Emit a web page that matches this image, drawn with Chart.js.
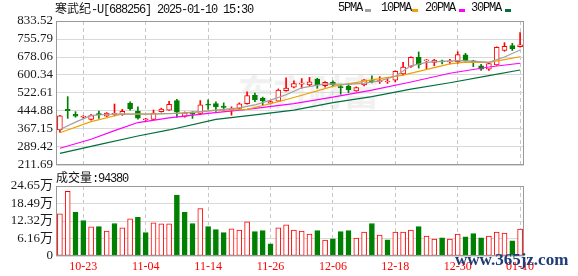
<!DOCTYPE html>
<html>
<head>
<meta charset="utf-8">
<script src="https://cdn.jsdelivr.net/npm/chart.js@4.4.1/dist/chart.umd.min.js"></script>
<style>
  html, body { margin: 0; padding: 0; background: #fff; }
  #wrap { position: relative; width: 578px; height: 276px; overflow: hidden; }
  canvas { position: absolute; left: 0; }
  .txt { position: absolute; font: 12px 'Liberation Mono', monospace; letter-spacing: -1.2px;
         color: #111; white-space: nowrap; line-height: 14px; }
  .cjk { font-family: 'Noto Sans CJK SC', sans-serif; letter-spacing: 0; }
  .mk { position: absolute; top: 9px; width: 6px; height: 3px; }
  #logo { position: absolute; left: 238px; top: 64px; font: bold 36px 'Noto Sans CJK SC';
          color: #f1f1f1; letter-spacing: -1px; }
  #site { position: absolute; left: 455px; top: 250px; font: bold 17px 'Liberation Serif', serif;
          color: #1e3c78; white-space: nowrap; }
</style>
</head>
<body>
<div id="wrap">
  <div id="logo">东方财富</div>
  <canvas id="price" width="578" height="182" style="top:0"></canvas>
  <canvas id="vol" width="578" height="106" style="top:170px"></canvas>

  <div class="txt" style="left:55px;top:1px"><span class="cjk">寒武纪</span>-U[688256] 2025-01-10 15:30</div>

  <div class="txt" style="left:338px;top:1px">5PMA</div>
  <div class="mk" style="left:365px;background:#a0a0a0"></div>
  <div class="txt" style="left:381px;top:1px">10PMA</div>
  <div class="mk" style="left:412px;background:#f0a000"></div>
  <div class="txt" style="left:425px;top:1px">20PMA</div>
  <div class="mk" style="left:459px;background:#ff00ff"></div>
  <div class="txt" style="left:471px;top:1px">30PMA</div>
  <div class="mk" style="left:505px;background:#006f3c"></div>

  <div class="txt" style="left:56px;top:170px"><span class="cjk">成交量</span>:94380</div>
  <div id="site">www.365jz.com</div>
</div>

<script>
'use strict';

const DATES = [
  '10-18','10-21','10-22','10-23','10-24','10-25','10-28','10-29','10-30','10-31',
  '11-01','11-04','11-05','11-06','11-07','11-08','11-11','11-12','11-13','11-14',
  '11-15','11-18','11-19','11-20','11-21','11-22','11-25','11-26','11-27','11-28',
  '11-29','12-02','12-03','12-04','12-05','12-06','12-09','12-10','12-11','12-12',
  '12-13','12-16','12-17','12-18','12-19','12-20','12-23','12-24','12-25','12-26',
  '12-27','12-30','12-31','01-02','01-03','01-06','01-07','01-08','01-09','01-10'
];
const AXIS_LABELS = ['10-23','11-04','11-14','11-26','12-06','12-18','12-30','01-10'];

const OPEN  = [363,452,431,418,409,432,423,430,429,479, 445,407,409,442,449,490,421,434,434,473,
               477,466,449,456,477,513,501,479,487,533, 548,561,558,583,554,570,550,553,532,557,
               576,571,570,578,605,637,677,661,655,662, 657,658,687,661,640,626,644,706,727,723];
const HIGH  = [426,507,442,425,431,444,438,475,452,485, 463,413,449,457,487,495,441,442,490,493,
               485,480,463,480,528,522,505,490,540,588, 575,585,590,586,572,575,556,564,549,581,
               597,593,588,618,655,679,700,667,668,665, 668,701,694,664,646,652,722,740,737,784];
const LOW   = [353,413,418,413,405,413,421,424,426,449, 410,404,407,440,447,418,418,413,430,452,
               443,447,427,452,474,485,471,475,485,530, 545,543,553,543,548,551,517,524,530,553,
               566,564,564,570,600,633,630,625,640,648, 648,650,660,636,620,620,642,703,706,720];
const CLOSE = [424,446,423,421,425,429,436,434,443,454, 414,410,436,453,474,440,436,431,472,470,
               462,460,454,476,512,494,489,486,535,544, 563,565,571,558,569,557,546,536,546,579,
               572,576,574,616,635,677,645,665,665,657, 662,688,661,655,625,650,720,724,714,731];

// volume in 万
const VOLUME = [14.88,22.74,15.36,12.50,10.24,10.36,8.81,11.43,9.88,13.10,
                13.58,8.22,11.67,11.31,11.31,21.43,15.36,11.43,16.67,10.36,
                9.29,8.22,9.53,9.17,12.03,8.57,8.93,4.29,9.88,10.96,
                9.17,8.81,7.74,8.93,5.60,6.07,8.57,8.93,6.31,8.45,
                11.43,7.38,5.72,8.45,8.45,9.17,10.36,7.03,5.95,6.43,
                5.95,7.74,6.79,7.86,6.43,7.03,8.45,8.10,5.36,9.438];
const VOL_UP = [1,1,0,0,1,0,1,0,1,1, 0,0,1,1,1,0,0,0,1,0, 0,0,1,1,1,0,0,0,1,1,
                1,1,1,0,1,0,0,0,1,1, 0,1,0,1,1,1,0,1,1,0, 1,1,0,0,0,1,1,1,0,1];

// moving averages: [day index, value]
const MA5_PTS  = [[0,365],[2,397],[4,426],[7,432],[11,431],[15,435],[19,445],[23,458],[25,471],[27,492],
                  [29,515],[31,545],[34,562],[37,560],[39,565],[41,575],[43,595],[45,640],[47,655],[49,659],
                  [51,662],[53,660],[55,655],[57,678],[59,708]];
const MA10_PTS = [[0,351],[4,399],[8,432],[12,432],[16,436],[20,447],[24,452],[28,485],[30,503],[35,551],
                  [40,579],[44,600],[50,648],[52,656],[55,655],[57,667],[59,679]];
const MA20_PTS = [[0,284],[4,323],[7,360],[10,395],[14,415],[19,435],[24,452],[30,477],[35,505],[40,535],
                  [45,570],[50,608],[55,635],[59,651]];
const MA30_PTS = [[0,262],[5,300],[10,337],[14,363],[20,409],[25,428],[30,449],[35,481],[40,507],[45,539],
                  [50,567],[55,598],[59,622]];

const PRICE_TICKS = [211.69,289.42,367.15,444.88,522.61,600.34,678.06,755.79,833.52];
const VOL_TICKS = [0,6.16,12.32,18.49,24.65];
const VOL_TICK_LABELS = ['0','6.16万','12.32万','18.49万','24.65万'];

const RED = '#ff0000';
const GREEN = '#008000';

Chart.defaults.font.family = "'Liberation Serif', 'Noto Sans CJK SC', serif";
Chart.defaults.font.size = 13;
Chart.defaults.color = '#1a1a1a';

function series(pts) {
  const out = DATES.map(() => null);
  pts.forEach(([i, v]) => { out[i] = v; });
  return out;
}

const isUp = i => CLOSE[i] >= OPEN[i];
const dashColor = c => AXIS_LABELS.includes(DATES[c.index]) ? '#c8c8c8' : 'rgba(0,0,0,0)';

const framePlugin = {
  id: 'frame',
  afterDraw(chart) {
    const { ctx, chartArea: a } = chart;
    ctx.save();
    ctx.strokeStyle = '#999';
    ctx.lineWidth = 1;
    ctx.strokeRect(Math.round(a.left) + 0.5, Math.round(a.top) + 0.5,
                   Math.round(a.right - a.left) - 1, Math.round(a.bottom - a.top) - 1);
    ctx.restore();
  }
};

function maLine(pts, color) {
  return {
    type: 'line', data: series(pts), borderColor: color, borderWidth: 1.2,
    pointRadius: 0, spanGaps: true, tension: 0, order: 0
  };
}

const common = {
  responsive: false,
  devicePixelRatio: 1,
  animation: false,
  events: [],
  plugins: { legend: { display: false }, tooltip: { enabled: false } },
};

new Chart(document.getElementById('price'), {
  type: 'bar',
  data: {
    labels: DATES,
    datasets: [
      maLine(MA5_PTS, '#a0a0a0'),
      maLine(MA10_PTS, '#f0a000'),
      maLine(MA20_PTS, '#ff00ff'),
      maLine(MA30_PTS, '#006f3c'),
      {
        data: DATES.map((d, i) => [OPEN[i], CLOSE[i]]),
        backgroundColor: c => isUp(c.dataIndex) ? '#fff' : GREEN,
        borderColor: c => isUp(c.dataIndex) ? RED : GREEN,
        borderWidth: 1, borderSkipped: false, barThickness: 5,
        minBarLength: 1, grouped: false, order: 5
      },
      {
        data: DATES.map((d, i) => [LOW[i], HIGH[i]]),
        backgroundColor: c => isUp(c.dataIndex) ? RED : GREEN,
        barThickness: 1, grouped: false, order: 6
      },
    ],
  },
  options: {
    ...common,
    layout: { padding: { top: 21, right: 54, bottom: 17, left: 0 } },
    scales: {
      x: {
        offset: true,
        grid: { offset: false, drawTicks: false, color: dashColor },
        border: { display: false, dash: [4, 3] },
        ticks: { display: false },
        afterFit: s => { s.height = 0; },
      },
      y: {
        min: PRICE_TICKS[0],
        max: PRICE_TICKS[PRICE_TICKS.length - 1],
        afterBuildTicks: s => { s.ticks = PRICE_TICKS.map(v => ({ value: v })); },
        ticks: { callback: v => v.toFixed(2), padding: 3, autoSkip: false },
        grid: { color: '#d9d9d9', drawTicks: false },
        border: { display: false },
        afterFit: s => { s.width = 56; },
      },
    },
  },
  plugins: [framePlugin],
});

new Chart(document.getElementById('vol'), {
  type: 'bar',
  data: {
    labels: DATES,
    datasets: [{
      data: VOLUME,
      backgroundColor: c => VOL_UP[c.dataIndex] ? '#fff' : GREEN,
      borderColor: c => VOL_UP[c.dataIndex] ? RED : GREEN,
      borderWidth: 1, borderSkipped: false, barThickness: 5,
    }],
  },
  options: {
    ...common,
    layout: { padding: { top: 16, right: 54, bottom: 0, left: 0 } },
    scales: {
      x: {
        offset: true,
        grid: { offset: false, drawTicks: false, color: dashColor },
        border: { display: false, dash: [4, 3] },
        ticks: {
          autoSkip: false, maxRotation: 0, padding: 4, color: RED,
          font: { size: 12 },
          callback: (v, i) => AXIS_LABELS.includes(DATES[i]) ? DATES[i] : '',
        },
        afterFit: s => { s.height = 20; },
      },
      y: {
        min: 0,
        max: VOL_TICKS[VOL_TICKS.length - 1],
        afterBuildTicks: s => { s.ticks = VOL_TICKS.map(v => ({ value: v })); },
        ticks: { callback: (v, i) => VOL_TICK_LABELS[i], padding: 3, autoSkip: false },
        grid: { color: '#d9d9d9', drawTicks: false },
        border: { display: false },
        afterFit: s => { s.width = 56; },
      },
    },
  },
  plugins: [framePlugin],
});
</script>
</body>
</html>
